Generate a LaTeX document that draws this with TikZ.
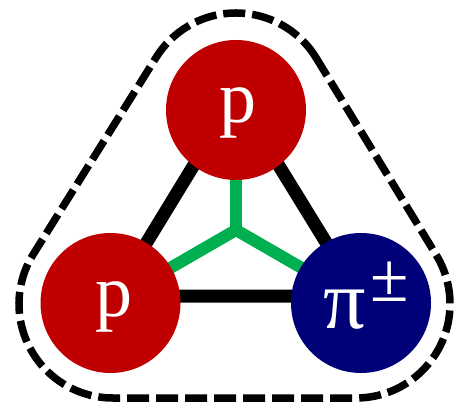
\documentclass[tikz,border=0pt]{standalone}
\usepackage{fontspec}
\setmainfont{Liberation Serif}
\usetikzlibrary{calc}
\definecolor{pred}{RGB}{192,0,0}
\definecolor{pinavy}{RGB}{0,0,120}
\definecolor{gluon}{RGB}{0,176,80}
\begin{document}
\begin{tikzpicture}[x=1pt,y=1pt,
  particle/.style={circle,minimum size=140pt,inner sep=0pt,draw=none},
  bond/.style={line width=13pt,black},
  glue/.style={line width=12pt,gluon},
  hull/.style={line width=7.5pt,dash pattern=on 22pt off 7pt},
  lbl/.style={text=white,inner sep=0pt,anchor=base,font=\fontsize{74pt}{74pt}\selectfont}]
\useasboundingbox (0,0) rectangle (454,404);
% outline
\coordinate (oa) at (236,297);
\coordinate (ob) at (113,100);
\coordinate (oc) at (356,100);
\draw[hull] ($(oa)+(31.35:94)$) arc[start angle=31.35,end angle=148,radius=94]
  -- ($(ob)+(148:94)$) arc[start angle=148,end angle=270,radius=94]
  -- ($(oc)+(270:94)$) arc[start angle=-90,end angle=31.35,radius=94] -- cycle;
% black triangle
\coordinate (t1) at (236,308);
\coordinate (t2) at (114,108);
\coordinate (t3) at (359,108);
\draw[bond,line join=miter] (t1) -- (t2) -- (t3) -- cycle;
% gluons
\coordinate (j) at (236,174);
\coordinate (g1) at (236,294);
\coordinate (g2) at ($(j)+(210:130)$);
\coordinate (g3) at ($(j)+(330:130)$);
\draw[glue] (j) -- (g1);
\draw[glue] (j) -- (g2);
\draw[glue] (j) -- (g3);
% particles
\node[particle,fill=pred] (ptop) at (236,294) {};
\node[particle,fill=pred] (pleft) at (110.5,101) {};
\node[particle,fill=pinavy] (pion) at (361,101) {};
\node[lbl] (ltop) at (238,281) {p};
\node[lbl] (lleft) at (113.5,88) {p};
\node[lbl,font=\fontsize{84pt}{84pt}\selectfont] (lpi) at (345,76) {π};
\node[lbl,font=\fontsize{70pt}{70pt}\selectfont] (lpm) at (390,103) {±};
\end{tikzpicture}
\end{document}
